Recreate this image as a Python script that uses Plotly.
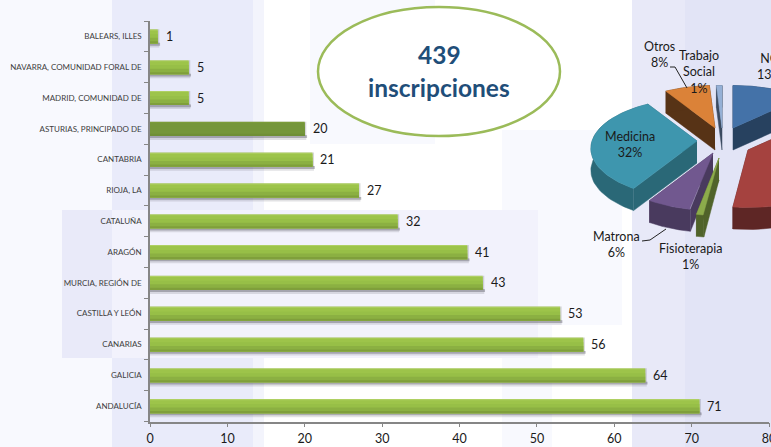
import numpy as np
import plotly.graph_objects as go

W, H = 771, 447

# ---- data ----
provinces = ["ANDALUCÍA", "GALICIA", "CANARIAS", "CASTILLA Y LEÓN", "MURCIA, REGIÓN DE", "ARAGÓN",
             "CATALUÑA", "RIOJA, LA", "CANTABRIA", "ASTURIAS, PRINCIPADO DE",
             "MADRID, COMUNIDAD DE", "NAVARRA, COMUNIDAD FORAL DE", "BALEARS, ILLES"]
inscriptions = [71, 64, 56, 53, 43, 41, 32, 27, 21, 20, 5, 5, 1]
x_ticks = [0, 10, 20, 30, 40, 50, 60, 70, 80]

pie_names = ["NC", "Enfermería", "Fisioterapia", "Matrona", "Medicina", "Otros", "Trabajo Social"]
pie_values = [13, 39, 1, 6, 32, 8, 1]
# ---- style ----
pie_top = ["#4472A8", "#A5423F", "#8CAB4B", "#71588F", "#3E96AE", "#DB8238", "#95B0D6"]
pie_side = ["#27415F", "#5E2625", "#50632A", "#493A5E", "#2A6877", "#573316", "#3B4A60"]
pie_apex = [(733, 128), (748, 150), (719, 158), (713, 153), (697, 141), (715, 128), (722, 128)]
RX, RY, PERSP, DEPTH = 105, 50, 0.15, 22

FONT = "Lato, Carlito, Calibri, sans-serif"
fig = go.Figure()

SLOT_BAR = 0.46
strips = [("#AFD063", "#7E9E3A", 0.00), ("#9DC44A", "#75963A", 0.08), ("#97BF47", "#75963A", 0.35),
          ("#8BB042", "#75963A", 0.60), ("#7F9F3B", "#6F8F36", 0.85)]
n = len(provinces)
dark_idx = provinces.index("ASTURIAS, PRINCIPADO DE")

# soft shadow under and right of each bar
for extra, height, col in [(0.3, 0.09, "rgba(95,95,105,0.42)"), (0.2, 0.15, "rgba(95,95,105,0.18)")]:
    fig.add_trace(go.Bar(y=provinces, x=[v + extra for v in inscriptions], orientation="h",
                         width=height, offset=-SLOT_BAR / 2 - height + 0.02,
                         marker=dict(color=col, line_width=0), hoverinfo="skip", showlegend=False))
fig.add_trace(go.Bar(y=provinces, x=[v + 0.2 for v in inscriptions], orientation="h",
                     width=SLOT_BAR, offset=-SLOT_BAR / 2,
                     marker=dict(color="rgba(95,95,105,0.25)", line_width=0), hoverinfo="skip", showlegend=False))
for light, dark, start in strips:
    h = SLOT_BAR * (1 - start)
    colors = [dark if i == dark_idx else light for i in range(n)]
    fig.add_trace(go.Bar(y=provinces, x=inscriptions, orientation="h", width=h, offset=-SLOT_BAR / 2,
                         marker=dict(color=colors, line_width=0), hoverinfo="skip", showlegend=False))

# ---- exploded tilted pie, angles derived from pie_values ----
def rim(theta):
    f = 1 - PERSP * np.cos(theta)
    return RX * np.sin(theta) * f, -RY * np.cos(theta) * f

def poly(xs, ys, color):
    fig.add_trace(go.Scatter(x=xs, y=ys, xaxis="x2", yaxis="y2", mode="lines", fill="toself",
                             fillcolor=color, line=dict(color=color, width=0.5),
                             hoverinfo="skip", showlegend=False))

total = sum(pie_values)
edges = np.cumsum([0] + pie_values) / total * 2 * np.pi
order = [0, 6, 5, 4, 1, 3, 2]
for i in order:
    a0, a1 = edges[i], edges[i + 1]
    ax, ay = pie_apex[i]
    t = np.linspace(a0, a1, 60)
    rx_, ry_ = rim(t)
    xs, ys = ax + rx_, ay + ry_
    poly([ax, xs[0], xs[0], ax], [ay, ys[0], ys[0] + DEPTH, ay + DEPTH], pie_side[i])
    poly([ax, xs[-1], xs[-1], ax], [ay, ys[-1], ys[-1] + DEPTH, ay + DEPTH], pie_side[i])
    poly(list(xs) + list(xs[::-1]), list(ys) + list((ys + DEPTH)[::-1]), pie_side[i])
    poly([ax] + list(xs) + [ax], [ay] + list(ys) + [ay], pie_top[i])

# leader lines
for lx, ly in [([670, 675, 687], [67, 67, 88]), ([642, 650, 666], [241, 240, 229])]:
    fig.add_trace(go.Scatter(x=lx, y=ly, xaxis="x2", yaxis="y2", mode="lines",
                             line=dict(color="#222222", width=1), hoverinfo="skip", showlegend=False))

# ---- background panels ----
shapes = []
def panel(x0, y0, x1, y1, color):
    shapes.append(dict(type="rect", xref="paper", yref="paper", x0=x0 / W, x1=x1 / W,
                       y0=1 - y1 / H, y1=1 - y0 / H, fillcolor=color, line_width=0, layer="below"))

panel(0, 0, 112, 447, "#F8F9FE")
panel(112, 0, 253, 447, "#E9EBFA")
panel(253, 0, 264, 447, "#F3F4FC")
panel(310, 0, 435, 144, "#F8F9FE")
panel(502, 130, 622, 325, "#F8F9FE")
panel(502, 130, 552, 447, "#F8F9FE")
panel(62, 210, 112, 358, "#E9EAF9")
panel(112, 210, 538, 358, "#F2F2FC")
panel(632, 0, 685, 447, "#E8E9F8")
panel(685, 0, 771, 447, "#E2E4F6")

# ellipse
shapes.append(dict(type="circle", xref="paper", yref="paper", x0=318 / W, x1=560 / W,
                   y0=1 - 136 / H, y1=1 - 7 / H, fillcolor="#FFFFFF",
                   line=dict(color="#9BBB59", width=2.5), layer="below"))

ann = []
def label(x, y, text, size=12.5, color="#1a1a1a", bold=False):
    ann.append(dict(xref="paper", yref="paper", x=x / W, y=1 - y / H, xanchor="center", yanchor="middle",
                    text=f"<b>{text}</b>" if bold else text, showarrow=False,
                    font=dict(family=FONT, size=size, color=color), align="center"))

label(439, 55, "439", 24.5, "#1F4E79", True)
label(439, 88, "inscripciones", 24.5, "#1F4E79", True)
label(630, 144, "Medicina<br>32%")
label(659, 55, "Otros<br>8%")
label(699, 72, "Trabajo<br>Social<br>1%")
label(769, 66, "NC<br>13%")
label(616, 245, "Matrona<br>6%")
label(690, 256, "Fisioterapia<br>1%")

# value labels at the end of each bar
for p, v in zip(provinces, inscriptions):
    ann.append(dict(xref="x", yref="y", x=v, y=p, text=str(v), showarrow=False, xanchor="left",
                    yanchor="middle", xshift=6, yshift=0,
                    font=dict(family=FONT, size=12.5, color="#1a1a1a")))

fig.update_layout(
    width=W, height=H, margin=dict(l=0, r=0, t=0, b=0), autosize=False,
    paper_bgcolor="#FFFFFF", plot_bgcolor="rgba(0,0,0,0)", barmode="overlay",
    showlegend=False, shapes=shapes, annotations=ann,
    xaxis=dict(domain=[150 / W, 769 / W], range=[0, 80], tickmode="array", tickvals=x_ticks,
               ticks="outside", ticklen=4, tickcolor="#868686", linecolor="#868686", linewidth=1.5,
               showline=True, showgrid=False, zeroline=False, automargin=False, ticklabelstandoff=1,
               ticklabeloverflow="allow",
               tickfont=dict(family=FONT, size=12.5, color="#1a1a1a"), anchor="y"),
    yaxis=dict(domain=[1 - 421.5 / H, 1 - 21 / H], type="category", categoryorder="array",
               categoryarray=provinces, range=[-0.5, n - 0.5], tickson="boundaries",
               ticks="outside", ticklen=4, tickcolor="#868686", linecolor="#868686", linewidth=1.5,
               showline=True, showgrid=False, zeroline=False, automargin=False, ticklabelstandoff=5,
               tickfont=dict(family=FONT, size=8, color="#404040"), anchor="x"),
    xaxis2=dict(domain=[0, 1], range=[0, W], visible=False, anchor="y2"),
    yaxis2=dict(domain=[0, 1], range=[H, 0], visible=False, anchor="x2"),
)
fig.write_html("out.html", config=dict(displayModeBar=False),
               post_script="document.body.style.margin='0';document.body.style.overflow='hidden';")
